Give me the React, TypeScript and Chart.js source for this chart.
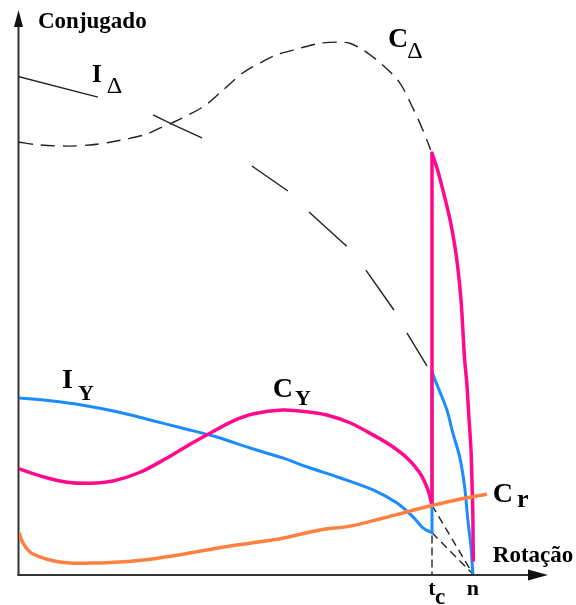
import React, { useEffect, useRef } from "react";
import { Chart, registerables } from "chart.js";

Chart.register(...registerables);

// Speed axis: 0 = standstill, SPEED_N = rated speed n, SPEED_TC = star/delta switch-over t_c
const SPEED_N = 100;
const SPEED_TC = 91;
const SPEED_MAX = 117;
const TORQUE_MAX = 100;

// Delta connection torque C_Δ
const cDeltaSpeed = [0, 4.6, 10.6, 15.6, 20.0, 23.8, 28.2, 31.1, 33.7, 40.5, 44.3, 49.3, 53.1, 56.8, 61.9, 66.3, 70.7, 72.9, 75.8, 80.2, 83.9, 86.8, 89.0, 90.7];
const cDeltaTorque = [78.5, 78.0, 77.8, 78.0, 78.5, 79.1, 80.0, 81.1, 82.0, 84.9, 87.5, 91.1, 92.9, 94.4, 95.6, 96.5, 96.7, 96.5, 95.3, 92.5, 89.3, 84.7, 80.7, 77.1];

// Delta connection current I_Δ
const iDeltaSpeed = [0, 17.4, 29.5, 33.7, 40.3, 51.3, 59.3, 63.9, 72.2, 76.4, 82.6, 85.5, 89.9, 91.0];
const iDeltaValue = [90.4, 86.7, 83.5, 81.8, 79.3, 74.2, 69.6, 65.8, 59.6, 55.3, 48.0, 43.8, 37.8, 36.7];

// Star connection torque C_Y (start-up up to t_c)
const cStarSpeed = [0, 5.7, 10.6, 15.6, 20.7, 26.7, 32.2, 37.7, 42.1, 47.1, 51.5, 58.1, 63.4, 67.8, 72.9, 78.0, 81.7, 85.5, 88.3, 90.1, 91.0];
const cStarTorque = [19.1, 17.6, 16.7, 16.5, 16.9, 18.5, 20.9, 23.6, 25.6, 27.8, 29.1, 29.8, 29.5, 28.9, 27.5, 25.3, 23.5, 21.1, 18.4, 15.3, 12.5];
// Torque jump at t_c and delta torque after switching
const cJumpTorque = [12.5, 76.5];
const cAfterSpeed = [91.0, 92.1, 93.4, 94.9, 96.0, 96.7, 97.4, 97.8, 98.2, 98.7, 99.1, 99.6, 99.8, 100.0, 100.1];
const cAfterTorque = [76.5, 73.8, 69.8, 64.7, 59.8, 55.6, 49.8, 44.4, 38.9, 34.4, 28.9, 22.5, 17.1, 10.7, 2.5];

// Star connection current I_Y (start-up up to t_c)
const iStarSpeed = [0, 6.8, 14.1, 21.6, 28.9, 36.1, 43.6, 50.9, 58.1, 63.4, 70.7, 78.0, 83.3, 86.8, 89.0, 91.0];
const iStarValue = [32.0, 31.5, 30.7, 29.5, 28.0, 26.5, 24.9, 22.9, 21.1, 19.5, 17.5, 15.3, 12.9, 10.4, 8.4, 7.5];
// Current jump at t_c and delta current after switching
const iJumpValue = [7.5, 36.7];
const iAfterSpeed = [91.0, 92.3, 94.3, 95.6, 97.1, 98.2, 98.9, 99.6, 100.0];
const iAfterValue = [36.7, 34.0, 29.8, 25.6, 21.3, 15.8, 9.8, 4.9, 0];

// Load torque C_r
const cLoadSpeed = [0, 0.9, 2.4, 4.6, 7.5, 11.2, 16.3, 22.2, 28.9, 36.1, 43.6, 50.9, 58.1, 66.3, 72.9, 79.5, 86.8, 91.2, 97.1, 103.1];
const cLoadTorque = [7.5, 5.6, 4.0, 3.1, 2.4, 2.0, 2.0, 2.2, 2.7, 3.6, 4.7, 5.6, 6.5, 8.0, 8.7, 10.0, 11.6, 12.5, 13.6, 14.5];

// Star curves continued beyond t_c (not followed by the motor)
const cStarTailSpeed = [SPEED_TC, SPEED_N];
const cStarTailTorque = [12.5, 0];
const iStarTailSpeed = [SPEED_TC, SPEED_N];
const iStarTailValue = [7.5, 0];
const tcMarkValue = [7.0, 0];
const jumpSpeed = [SPEED_TC, SPEED_TC];

const AXIS_Y_TITLE = "Conjugado";
const AXIS_X_TITLE = "Rotação";

const MAGENTA = "#ff0a8c";
const BLUE = "#1a8cff";
const ORANGE = "#ff8040";
const INK = "#222222";
const SERIF = "'Liberation Serif', 'Times New Roman', serif";

type CurveLabel = {
  main: string;
  sub: string;
  x: number;
  y: number;
  mainFont: string;
  subFont: string;
  subDx: number;
  subDy: number;
};

const curveLabels: CurveLabel[] = [
  { main: "I", sub: "Δ", x: 16.1, y: 89.5, mainFont: `bold 25px ${SERIF}`, subFont: `24px ${SERIF}`, subDx: 5, subDy: 11 },
  { main: "C", sub: "Δ", x: 81.3, y: 95.8, mainFont: `bold 28px ${SERIF}`, subFont: `24px ${SERIF}`, subDx: -1, subDy: 11 },
  { main: "I", sub: "Y", x: 9.5, y: 33.8, mainFont: `bold 28px ${SERIF}`, subFont: `bold 22px ${SERIF}`, subDx: 5, subDy: 12 },
  { main: "C", sub: "Y", x: 55.9, y: 32.2, mainFont: `bold 28px ${SERIF}`, subFont: `bold 22px ${SERIF}`, subDx: 2, subDy: 8 },
  { main: "C", sub: "r", x: 104.4, y: 13.1, mainFont: `bold 28px ${SERIF}`, subFont: `bold 26px ${SERIF}`, subDx: 4, subDy: 5 },
];

const pts = (xs: number[], ys: number[]) => xs.map((x, i) => ({ x, y: ys[i] }));

const axesPlugin = {
  id: "motorAxes",
  beforeDatasetsDraw(chart: any) {
    const { ctx, chartArea, scales } = chart;
    const xs = scales.x;
    const ys = scales.y;
    const x0 = xs.getPixelForValue(0) - 0.5;
    const y0 = ys.getPixelForValue(0) + 1;
    ctx.save();
    ctx.strokeStyle = "#333333";
    ctx.fillStyle = "#111111";
    ctx.lineWidth = 2;
    // vertical axis
    ctx.beginPath();
    ctx.moveTo(x0, y0 + 1);
    ctx.lineTo(x0, chartArea.top);
    ctx.stroke();
    ctx.beginPath();
    ctx.moveTo(x0, chartArea.top - 14);
    ctx.lineTo(x0 - 4.5, chartArea.top + 3);
    ctx.lineTo(x0 + 4.5, chartArea.top + 3);
    ctx.closePath();
    ctx.fill();
    // horizontal axis
    ctx.beginPath();
    ctx.moveTo(x0 - 1, y0);
    ctx.lineTo(chartArea.right - 18, y0);
    ctx.stroke();
    ctx.beginPath();
    ctx.moveTo(chartArea.right - 2, y0);
    ctx.lineTo(chartArea.right - 22, y0 - 5.5);
    ctx.lineTo(chartArea.right - 22, y0 + 5.5);
    ctx.closePath();
    ctx.fill();
    ctx.restore();
  },
  afterDatasetsDraw(chart: any) {
    const { ctx, scales, chartArea } = chart;
    const xs = scales.x;
    const ys = scales.y;
    const y0 = ys.getPixelForValue(0);
    ctx.save();
    ctx.fillStyle = "#000000";
    ctx.textBaseline = "alphabetic";
    ctx.textAlign = "left";

    ctx.font = `bold 23px ${SERIF}`;
    ctx.fillText(AXIS_Y_TITLE, xs.getPixelForValue(0) + 19, chartArea.top + 4);
    ctx.fillText(AXIS_X_TITLE, xs.getPixelForValue(SPEED_N) + 20, y0 - 12);

    for (const l of curveLabels) {
      const px = xs.getPixelForValue(l.x);
      const py = ys.getPixelForValue(l.y);
      ctx.font = l.mainFont;
      ctx.fillText(l.main, px, py);
      const w = ctx.measureText(l.main).width;
      ctx.font = l.subFont;
      ctx.fillText(l.sub, px + w + l.subDx, py + l.subDy);
    }

    // speed marks under the axis
    ctx.font = `bold 22px ${SERIF}`;
    ctx.textAlign = "center";
    const tx = xs.getPixelForValue(SPEED_TC);
    ctx.fillText("t", tx, y0 + 21);
    ctx.fillText("n", xs.getPixelForValue(SPEED_N), y0 + 21);
    ctx.textAlign = "left";
    ctx.font = `bold 23px ${SERIF}`;
    ctx.fillText("c", tx + 3, y0 + 30);
    ctx.restore();
  },
};

export default function App() {
  const canvasRef = useRef<HTMLCanvasElement | null>(null);

  useEffect(() => {
    if (!canvasRef.current) return;
    const thin = { pointRadius: 0, borderColor: INK, borderWidth: 1.4, tension: 0, fill: false };
    const magenta = { pointRadius: 0, borderColor: MAGENTA, borderWidth: 3.5, borderCapStyle: "round" as const, borderJoinStyle: "round" as const };
    const blue = { pointRadius: 0, borderColor: BLUE, borderWidth: 3, borderCapStyle: "round" as const, borderJoinStyle: "round" as const };
    const chart = new Chart(canvasRef.current, {
      type: "line",
      data: {
        datasets: [
          { label: "Cr", data: pts(cLoadSpeed, cLoadTorque), borderColor: ORANGE, borderWidth: 3.5, pointRadius: 0, tension: 0.3, order: 0 },
          { label: "CY", data: pts(cStarSpeed, cStarTorque), ...magenta, tension: 0.3, order: 1 },
          { label: "C jump", data: pts(jumpSpeed, cJumpTorque), ...magenta, tension: 0, order: 1 },
          { label: "C after", data: pts(cAfterSpeed, cAfterTorque), ...magenta, tension: 0.3, order: 1 },
          { label: "IY", data: pts(iStarSpeed, iStarValue), ...blue, tension: 0.3, order: 2 },
          { label: "I jump", data: pts(jumpSpeed, iJumpValue), ...blue, tension: 0, order: 2 },
          { label: "I after", data: pts(iAfterSpeed, iAfterValue), ...blue, tension: 0.3, order: 2 },
          { label: "CΔ", data: pts(cDeltaSpeed, cDeltaTorque), ...thin, tension: 0.3, borderDash: [14, 8], order: 3 },
          { label: "IΔ", data: pts(iDeltaSpeed, iDeltaValue), ...thin, borderDash: [81.5, 57.9, 54.1, 57.3, 43.8, 29.7, 51, 30.6, 48.8, 26.4, 38.6, 50], order: 4 },
          { label: "CY tail", data: pts(cStarTailSpeed, cStarTailTorque), ...thin, borderDash: [8, 5], order: 5 },
          { label: "IY tail", data: pts(iStarTailSpeed, iStarTailValue), ...thin, borderDash: [8, 5], order: 6 },
          { label: "tc", data: pts(jumpSpeed, tcMarkValue), ...thin, borderDash: [8, 4], order: 7 },
        ],
      },
      options: {
        animation: false,
        responsive: false,
        maintainAspectRatio: false,
        devicePixelRatio: 1,
        layout: { padding: { left: 19, right: 26, top: 24, bottom: 31 } },
        plugins: { legend: { display: false }, tooltip: { enabled: false } },
        scales: {
          x: { type: "linear", min: 0, max: SPEED_MAX, display: false },
          y: { type: "linear", min: 0, max: TORQUE_MAX, display: false },
        },
      },
      plugins: [axesPlugin],
    });
    return () => chart.destroy();
  }, []);

  return (
    <div style={{ position: "absolute", left: 0, top: 0, width: 576, height: 605, background: "#ffffff" }}>
      <canvas ref={canvasRef} width={576} height={605} style={{ display: "block" }} />
    </div>
  );
}
